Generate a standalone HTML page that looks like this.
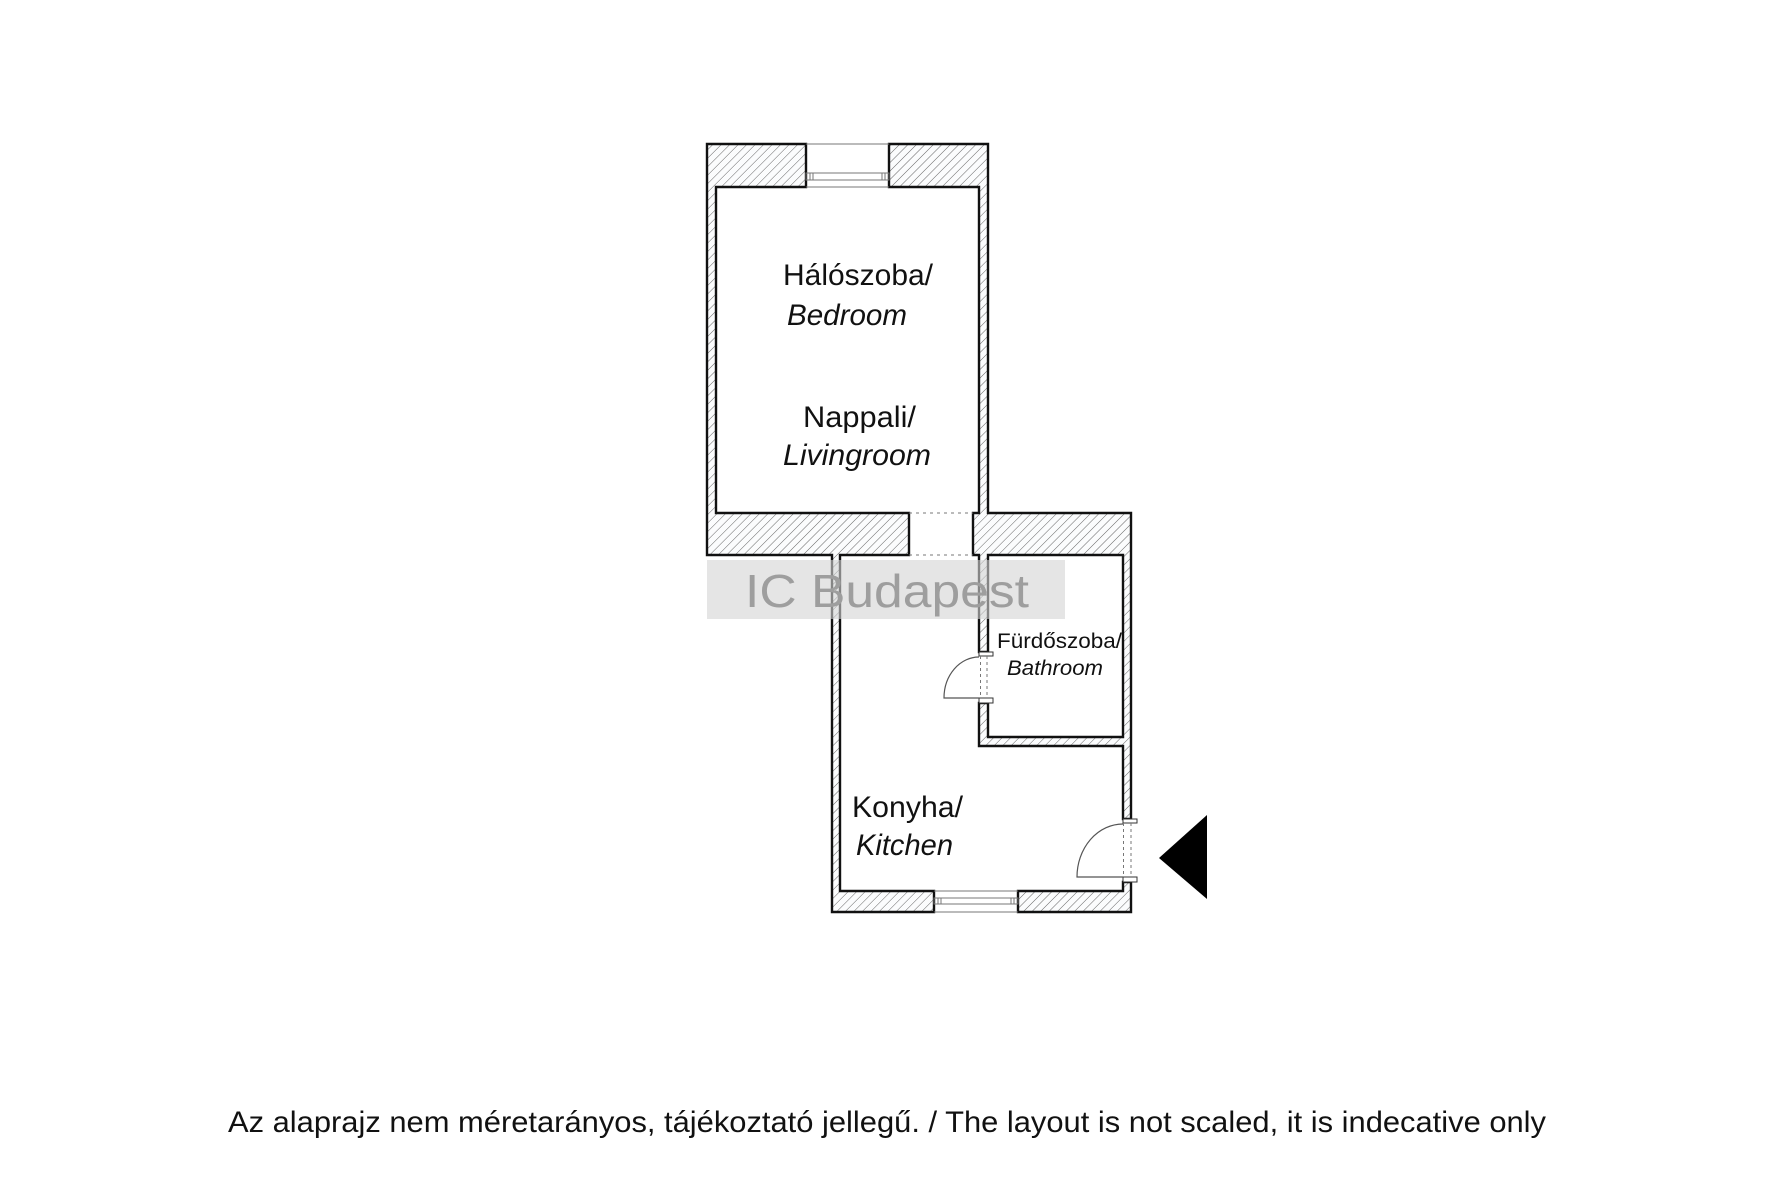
<!DOCTYPE html>
<html>
<head>
<meta charset="utf-8">
<style>
  html, body { margin: 0; padding: 0; background: #fff; }
  svg { display: block; }
  text { font-family: "Liberation Sans", sans-serif; fill: #111; }
</style>
</head>
<body>
<svg width="1772" height="1181" viewBox="0 0 1772 1181" xmlns="http://www.w3.org/2000/svg">
  <defs>
    <pattern id="hatch" patternUnits="userSpaceOnUse" width="6" height="6" patternTransform="rotate(45)">
      <rect width="6" height="6" fill="#fbfcfd"/>
      <line x1="0" y1="0" x2="0" y2="6" stroke="#555" stroke-width="0.9"/>
    </pattern>
  </defs>
  <rect width="1772" height="1181" fill="#fff"/>

  <!-- Wall piece A -->
  <path d="M707,144 L806,144 L806,187 L716,187 L716,513 L909,513 L909,555 L840,555 L840,891 L934,891 L934,912 L832,912 L832,555 L707,555 Z"
        fill="url(#hatch)" stroke="#111" stroke-width="2.4" stroke-linejoin="miter"/>
  <!-- Wall piece B -->
  <path d="M889,144 L988,144 L988,513 L1131,513 L1131,819 L1123,819 L1123,746 L979,746 L979,703 L988,703 L988,737 L1123,737 L1123,555 L988,555 L988,652 L979,652 L979,555 L973,555 L973,513 L979,513 L979,187 L889,187 Z"
        fill="url(#hatch)" stroke="#111" stroke-width="2.4" stroke-linejoin="miter"/>
  <!-- Wall piece C -->
  <path d="M1018,891 L1123,891 L1123,882 L1131,882 L1131,912 L1018,912 Z"
        fill="url(#hatch)" stroke="#111" stroke-width="2.4" stroke-linejoin="miter"/>

  <!-- Top window -->
  <g stroke="#777" stroke-width="1" fill="none">
    <line x1="806" y1="144" x2="889" y2="144"/>
    <line x1="806" y1="187" x2="889" y2="187"/>
    <rect x="806" y="173" width="83" height="7"/>
    <line x1="810" y1="173" x2="810" y2="180"/>
    <line x1="813" y1="173" x2="813" y2="180"/>
    <line x1="882" y1="173" x2="882" y2="180"/>
    <line x1="885" y1="173" x2="885" y2="180"/>
  </g>

  <!-- Kitchen window -->
  <g stroke="#777" stroke-width="1" fill="none">
    <line x1="934" y1="891" x2="1018" y2="891"/>
    <line x1="934" y1="912" x2="1018" y2="912"/>
    <rect x="934" y="898" width="84" height="6"/>
    <line x1="938" y1="898" x2="938" y2="904"/>
    <line x1="941" y1="898" x2="941" y2="904"/>
    <line x1="1011" y1="898" x2="1011" y2="904"/>
    <line x1="1014" y1="898" x2="1014" y2="904"/>
  </g>

  <!-- Doorway between bedroom and kitchen -->
  <g stroke="#777" stroke-width="1" stroke-dasharray="3,4">
    <line x1="909" y1="513" x2="973" y2="513"/>
    <line x1="909" y1="555" x2="973" y2="555"/>
  </g>

  <!-- Bathroom door -->
  <g stroke="#333" stroke-width="1" fill="#fff">
    <rect x="979" y="652" width="14" height="4"/>
    <rect x="979" y="698" width="14" height="5"/>
  </g>
  <g stroke="#777" stroke-width="1" stroke-dasharray="3,3">
    <line x1="980.5" y1="656" x2="980.5" y2="698"/>
    <line x1="987" y1="656" x2="987" y2="698"/>
  </g>
  <path d="M979,698 L944,698 A35,41 0 0 1 979,657" fill="none" stroke="#555" stroke-width="1.2"/>

  <!-- Entry door -->
  <g stroke="#333" stroke-width="1" fill="#fff">
    <rect x="1123" y="819" width="14" height="4"/>
    <rect x="1123" y="877" width="14" height="5"/>
  </g>
  <g stroke="#777" stroke-width="1" stroke-dasharray="3,3">
    <line x1="1123.5" y1="823" x2="1123.5" y2="877"/>
    <line x1="1131" y1="823" x2="1131" y2="877"/>
  </g>
  <path d="M1123,877 L1077,877 A46,53 0 0 1 1123,824" fill="none" stroke="#555" stroke-width="1.2"/>

  <!-- Entry arrow -->
  <polygon points="1159,858 1207,815 1207,899" fill="#000"/>

  <!-- Room labels -->
  <text x="783" y="285" font-size="30" textLength="150" lengthAdjust="spacingAndGlyphs">Hálószoba/</text>
  <text x="787" y="325" font-size="30" font-style="italic" textLength="120" lengthAdjust="spacingAndGlyphs">Bedroom</text>
  <text x="803" y="427" font-size="30" textLength="113" lengthAdjust="spacingAndGlyphs">Nappali/</text>
  <text x="783" y="465" font-size="30" font-style="italic" textLength="148" lengthAdjust="spacingAndGlyphs">Livingroom</text>
  <text x="852" y="817" font-size="30" textLength="111" lengthAdjust="spacingAndGlyphs">Konyha/</text>
  <text x="856" y="855" font-size="30" font-style="italic" textLength="97" lengthAdjust="spacingAndGlyphs">Kitchen</text>
  <text x="997" y="648" font-size="21" textLength="125" lengthAdjust="spacingAndGlyphs">Fürdőszoba/</text>
  <text x="1007" y="675" font-size="21" font-style="italic" textLength="96" lengthAdjust="spacingAndGlyphs">Bathroom</text>

  <!-- Watermark -->
  <rect x="707" y="560" width="358" height="59" fill="#d4d4d4" fill-opacity="0.6"/>
  <text x="745" y="607" font-size="46" textLength="284" lengthAdjust="spacingAndGlyphs" style="fill:#9e9e9e">IC Budapest</text>

  <!-- Caption -->
  <text x="228" y="1132" font-size="30" textLength="1318" lengthAdjust="spacingAndGlyphs">Az alaprajz nem méretarányos, tájékoztató jellegű. / The layout is not scaled, it is indecative only</text>
</svg>
</body>
</html>
